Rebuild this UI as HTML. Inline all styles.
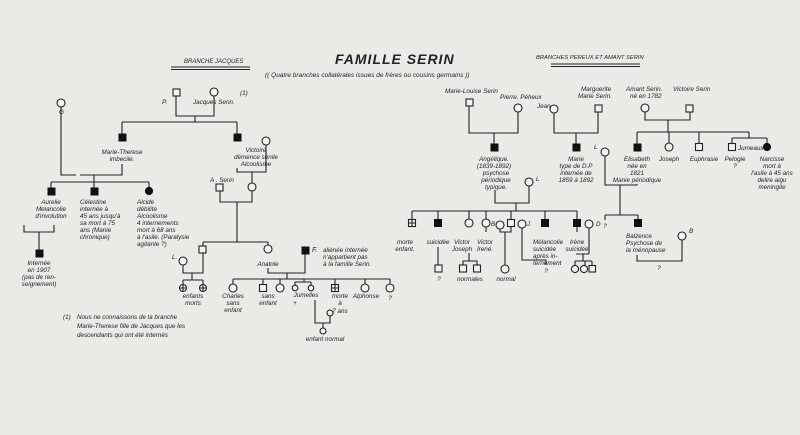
<!DOCTYPE html>
<html><head><meta charset="utf-8"><style>
html,body{margin:0;padding:0;background:#ebeae7;}
svg{display:block;}
text{font-family:"Liberation Sans",sans-serif;font-style:italic;fill:#222;font-size:6.3px;}
.l{fill:none;stroke:#222;stroke-width:1.1;}
.o{fill:#f2f1ee;stroke:#222;stroke-width:1.1;}
.f{fill:#111;stroke:#111;stroke-width:1;}
</style></head><body>
<svg width="800" height="435" viewBox="0 0 800 435" xmlns="http://www.w3.org/2000/svg">
<rect width="800" height="435" fill="#ebeae7"/>
<!-- headings -->
<text x="335" y="64" style="font-size:14px;font-weight:bold;letter-spacing:1px">FAMILLE SERIN</text>
<text x="265" y="77" style="font-size:6.5px">(( Quatre branches collatérales issues de frères ou cousins germains ))</text>
<text x="184" y="63" style="font-size:6px">BRANCHE JACQUES</text>
<path class="l" d="M171 67H250M171 69.5H250" stroke-width="0.8"/>
<text x="536" y="59" style="font-size:5.8px">BRANCHES PEREUX ET AMANT SERIN</text>
<path class="l" d="M551 64H640M551 66.5H640" stroke-width="0.8"/>

<!-- LEFT: Jacques -->
<rect class="o" x="173" y="89" width="7" height="7"/>
<circle class="o" cx="214" cy="92" r="4"/>
<text x="162" y="104">P.</text><text x="193" y="104">Jacques Serin.</text><text x="240" y="95">(1)</text>
<path class="l" d="M176 96V116H214V96M195 116V122M122 122H237M122 122V134M237 122V134"/>
<rect class="f" x="119" y="134" width="7" height="7"/>
<rect class="f" x="234" y="134" width="7" height="7"/>
<text x="122" y="154" text-anchor="middle">Marie-Therese</text><text x="122" y="161" text-anchor="middle">imbecile.</text>
<text x="256" y="152" text-anchor="middle">Victoire</text><text x="256" y="159" text-anchor="middle">démence sénile</text><text x="256" y="166" text-anchor="middle">Alcoolisme</text>
<circle class="o" cx="266" cy="141" r="4"/>
<path class="l" d="M237 168V172H266V145M252 172V183"/>
<text x="210" y="182">A . Serin</text>
<rect class="o" x="216" y="184" width="7" height="7"/>
<circle class="o" cx="252" cy="187" r="4"/>
<path class="l" d="M220 191V202H252V191M237 202V242M203 242H268M203 242V246M268 242V245"/>
<!-- G branch -->
<circle class="o" cx="61" cy="103" r="4"/><text x="59" y="114">G</text>
<path class="l" d="M61 107V175H76M80 175H122V164M94 175V182M51 182H149M51 182V188M94 182V188M149 182V188"/>
<rect class="f" x="48" y="188" width="7" height="7"/>
<rect class="f" x="91" y="188" width="7" height="7"/>
<circle class="f" cx="149" cy="191" r="3.6"/>
<text x="51" y="204" text-anchor="middle">Aurelie</text><text x="51" y="211" text-anchor="middle">Melancolie</text><text x="51" y="218" text-anchor="middle">d'involution</text>
<text x="80" y="204">Célestine</text><text x="80" y="211">internée à</text><text x="80" y="218">45 ans jusqu'à</text><text x="80" y="225">sa mort à 75</text><text x="80" y="232">ans  (Manie</text><text x="80" y="239">chronique)</text>
<text x="137" y="204">Alcide</text><text x="137" y="211">débilite</text><text x="137" y="218">Alcoolisme</text><text x="137" y="225">4 internements</text><text x="137" y="232">mort  à 68 ans</text><text x="137" y="239">à l'asile. (Paralysie</text><text x="137" y="246">agitante ?)</text>
<path class="l" d="M24 225V232H54V225M39 232V250"/>
<rect class="f" x="36" y="250" width="7" height="7"/>
<text x="39" y="265" text-anchor="middle">Internée</text><text x="39" y="272" text-anchor="middle">en 1907</text><text x="39" y="279" text-anchor="middle">(pas de ren-</text><text x="39" y="286" text-anchor="middle">seignement)</text>
<!-- grandchildren -->
<rect class="o" x="199" y="246" width="7" height="7"/>
<circle class="o" cx="268" cy="249" r="4"/>
<text x="172" y="259">L.</text>
<circle class="o" cx="183" cy="261" r="4"/>
<path class="l" d="M183 265V273H203V253M192 273V280M183 280H203M183 280V284M203 280V284"/>
<circle class="o" cx="183" cy="288" r="3.5"/><path class="l" d="M179.5 288H186.5M183 284.5V291.5" stroke-width="0.8"/>
<circle class="o" cx="203" cy="288" r="3.5"/><path class="l" d="M199.5 288H206.5M203 284.5V291.5" stroke-width="0.8"/>
<text x="193" y="298" text-anchor="middle">enfants</text><text x="193" y="305" text-anchor="middle">morts</text>
<text x="268" y="266" text-anchor="middle">Anatole</text>
<rect class="f" x="302" y="247" width="7" height="7"/>
<text x="312" y="252" style="font-size:7px">F.</text>
<text x="323" y="252">aliénée internée</text><text x="323" y="259">n'appartient pas</text><text x="323" y="266">à la famille Serin.</text>
<path class="l" d="M268 268V273H305V254M287 273V279M233 279H390M233 279V284M263 279V284M280 279V284M304 279V282M295 282H311M295 282V285M311 282V285M335 279V284M365 279V284M390 279V284"/>
<circle class="o" cx="233" cy="288" r="4"/>
<rect class="o" x="259.5" y="284.5" width="7" height="7"/>
<circle class="o" cx="280" cy="288" r="4"/>
<circle class="o" cx="295" cy="288" r="2.8"/>
<circle class="o" cx="311" cy="288" r="2.8"/>
<rect class="o" x="331.5" y="284.5" width="7" height="7"/><path class="l" d="M331.5 288H338.5M335 284.5V291.5" stroke-width="0.8"/>
<circle class="o" cx="365" cy="288" r="4"/>
<circle class="o" cx="390" cy="288" r="4"/>
<text x="233" y="298" text-anchor="middle">Charles</text><text x="233" y="305" text-anchor="middle">sans</text><text x="233" y="312" text-anchor="middle">enfant</text>
<text x="268" y="298" text-anchor="middle">sans</text><text x="268" y="305" text-anchor="middle">enfant</text>
<text x="306" y="297" text-anchor="middle">Jumelles</text><text x="295" y="305" text-anchor="middle">+</text>
<text x="340" y="298" text-anchor="middle">morte</text><text x="340" y="305" text-anchor="middle">à</text><text x="340" y="313" text-anchor="middle">7 ans</text>
<text x="366" y="298" text-anchor="middle">Alphonse</text><text x="390" y="300" text-anchor="middle">?</text>
<path class="l" d="M315 300V323H330V316M323 323V328"/>
<circle class="o" cx="330" cy="313" r="3"/>
<circle class="o" cx="323" cy="331" r="3"/>
<text x="325" y="341" text-anchor="middle">enfant normal</text>
<text x="63" y="319">(1)</text><text x="77" y="319">Nous ne connaissons de la branche</text><text x="77" y="328">Marie-Therese fille de Jacques que les</text><text x="77" y="337">descendants qui ont été internés</text>

<!-- RIGHT: Pereux -->
<text x="445" y="93">Marie-Louise Serin</text>
<text x="500" y="99">Pierre. Péheux</text>
<rect class="o" x="466" y="99" width="7" height="7"/>
<circle class="o" cx="518" cy="108" r="4"/>
<path class="l" d="M469 106V133H518V112M494 133V144"/>
<rect class="f" x="491" y="144" width="7" height="7"/>
<text x="494" y="161" text-anchor="middle">Angélique.</text><text x="494" y="168" text-anchor="middle">(1839-1892)</text><text x="496" y="175" text-anchor="middle">psychose</text><text x="496" y="182" text-anchor="middle">périodique</text><text x="496" y="189" text-anchor="middle">typique.</text>
<text x="537" y="108">Jean</text>
<circle class="o" cx="554" cy="109" r="4"/>
<text x="581" y="91">Marguerite</text><text x="578" y="98">Marie Serin.</text>
<rect class="o" x="595" y="105" width="7" height="7"/>
<path class="l" d="M554 113V133H598V112M576 133V144"/>
<rect class="f" x="573" y="144" width="7" height="7"/>
<text x="576" y="161" text-anchor="middle">Marie</text><text x="576" y="168" text-anchor="middle">type de D.P</text><text x="576" y="175" text-anchor="middle">internée de</text><text x="576" y="182" text-anchor="middle">1859 à 1892</text>
<!-- Amant -->
<text x="626" y="91">Amant Serin.</text><text x="630" y="98">né en 1782</text>
<text x="673" y="91">Victoire Serin</text>
<circle class="o" cx="645" cy="108" r="4"/>
<rect class="o" x="686" y="105" width="7" height="7"/>
<path class="l" d="M645 112V120H690V112M668 120V132M637 132H749M637 132V144M669 132V143M699 132V144M749 132V138M732 138H767M732 138V144M767 138V144"/>
<rect class="f" x="634" y="144" width="7" height="7"/>
<circle class="o" cx="669" cy="147" r="4"/>
<rect class="o" x="695.5" y="143.5" width="7" height="7"/>
<rect class="o" x="728.5" y="143.5" width="7" height="7"/>
<circle class="f" cx="767" cy="147" r="3.6"/>
<text x="738" y="150">Jumeaux</text>
<text x="637" y="161" text-anchor="middle">Elisabeth</text><text x="637" y="168" text-anchor="middle">née en</text><text x="637" y="175" text-anchor="middle">1821</text><text x="637" y="182" text-anchor="middle">Manie périodique</text>
<text x="669" y="161" text-anchor="middle">Joseph</text><text x="704" y="161" text-anchor="middle">Euphrasie</text>
<text x="735" y="161" text-anchor="middle">Pelogie</text><text x="735" y="168" text-anchor="middle">?</text>
<text x="772" y="161" text-anchor="middle">Narcisse</text><text x="772" y="168" text-anchor="middle">mort à</text><text x="772" y="175" text-anchor="middle">l'asile à 45 ans</text><text x="772" y="182" text-anchor="middle">delire aigu</text><text x="772" y="189" text-anchor="middle">meningite</text>
<text x="594" y="149">L</text>
<circle class="o" cx="605" cy="152" r="4"/>
<path class="l" d="M605 156V185H637V184M620 185V215M605 215H638M605 215V220M638 215V219"/>
<text x="605" y="228" text-anchor="middle">?</text>
<rect class="f" x="634.5" y="219.5" width="7" height="7"/>
<text x="626" y="238">Balzence</text><text x="626" y="245">Psychose de</text><text x="626" y="252">la ménopause</text>
<circle class="o" cx="682" cy="236" r="4"/><text x="689" y="233">B</text>
<path class="l" d="M637 255V261H682V240"/>
<text x="659" y="270" text-anchor="middle">?</text>
<!-- Angélique children -->
<circle class="o" cx="529" cy="182" r="4"/><text x="536" y="181">L</text>
<path class="l" d="M495 190V203H529V186M516 203V211M412 211H577M412 211V219M438 211V219M469 211V219M486 211V220M511 211V219M545 211V219M577 211V219"/>
<rect class="o" x="408.5" y="219.5" width="7" height="7"/><path class="l" d="M408.5 223H415.5M412 219.5V226.5" stroke-width="0.8"/>
<rect class="f" x="434.5" y="219.5" width="7" height="7"/>
<circle class="o" cx="469" cy="223" r="4"/>
<circle class="o" cx="486" cy="223" r="4"/><text x="491" y="226">B</text>
<circle class="o" cx="500" cy="225" r="4"/>
<rect class="o" x="507.5" y="219.5" width="7" height="7"/>
<circle class="o" cx="522" cy="224" r="4"/><text x="527" y="226">J</text>
<rect class="f" x="541.5" y="219.5" width="7" height="7"/>
<rect class="f" x="573.5" y="219.5" width="7" height="7"/>
<circle class="o" cx="589" cy="224" r="4"/><text x="596" y="226">D</text>
<text x="405" y="244" text-anchor="middle">morte</text><text x="405" y="251" text-anchor="middle">enfant.</text>
<text x="438" y="244" text-anchor="middle">suicidée</text>
<text x="462" y="244" text-anchor="middle">Victor</text><text x="462" y="251" text-anchor="middle">Joseph</text>
<text x="485" y="244" text-anchor="middle">Victor</text><text x="485" y="251" text-anchor="middle">Irené.</text>
<text x="533" y="244">Mélancolie</text><text x="533" y="251">suicidée</text><text x="533" y="258">après in-</text><text x="533" y="265">ternement</text>
<text x="577" y="244" text-anchor="middle">Irène</text><text x="577" y="251" text-anchor="middle">suicidée</text>
<path class="l" d="M438 247V265M469 253V261H463V265M469 261H477V265M500 229V232H511V226M505 232V265M522 228V260H546V265M577 226V232M589 228V254M576 254H589M583 254V261M575 261H592M575 261V265M585 261V265M592 261V265M486 227V232"/>
<rect class="o" x="435" y="265" width="7" height="7"/><text x="439" y="281" text-anchor="middle">?</text>
<rect class="o" x="459.5" y="265" width="7" height="7"/><rect class="o" x="473.5" y="265" width="7" height="7"/>
<text x="470" y="281" text-anchor="middle">normales</text>
<circle class="o" cx="505" cy="269" r="4"/><text x="506" y="281" text-anchor="middle">normal</text>
<text x="546" y="273" text-anchor="middle">?</text>
<circle class="o" cx="575" cy="269" r="3.6"/><circle class="o" cx="584" cy="269" r="3.6"/><rect class="o" x="589" y="265.5" width="6.5" height="6.5"/>
</svg>
</body></html>
